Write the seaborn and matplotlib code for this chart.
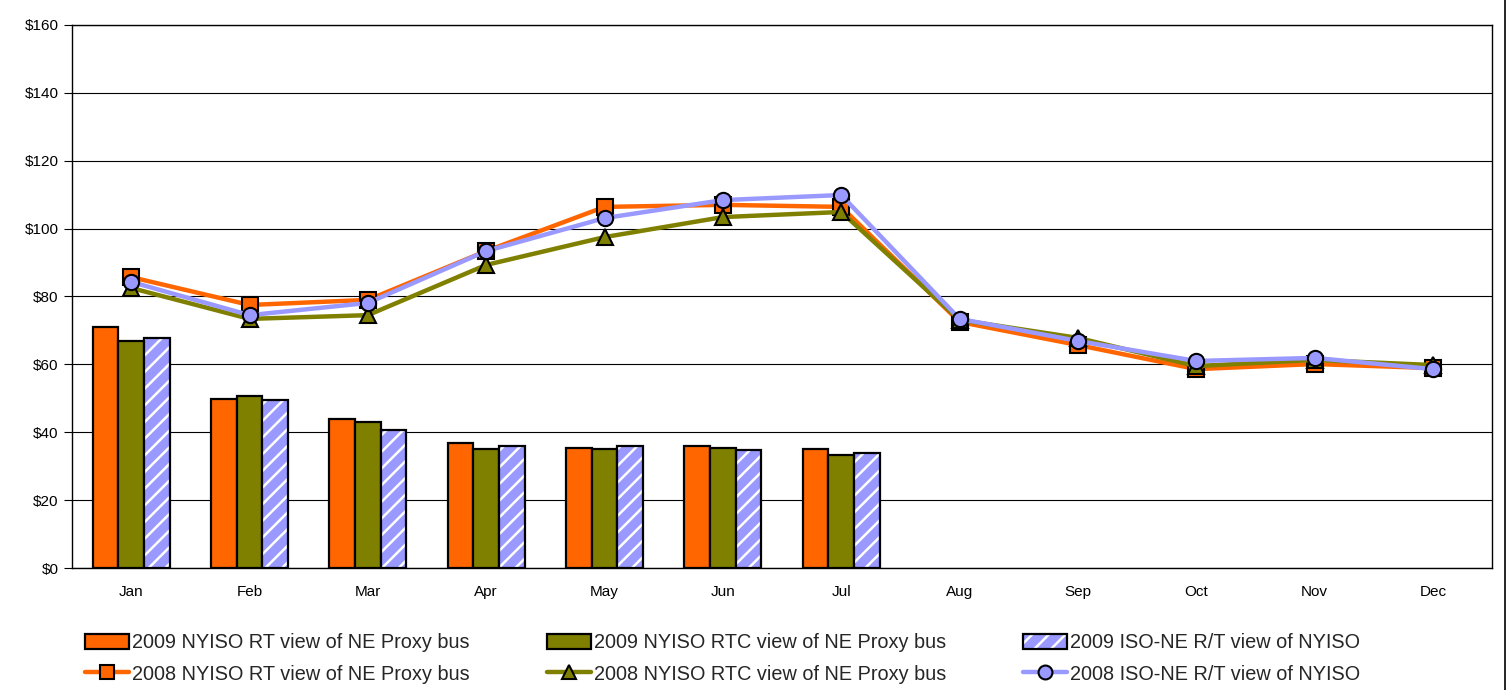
import numpy as np
import pandas as pd
import matplotlib
matplotlib.use("Agg")
import matplotlib.pyplot as plt
from matplotlib.patches import Patch
from matplotlib.lines import Line2D
from matplotlib.colors import to_rgba
import seaborn as sns

months = ["Jan", "Feb", "Mar", "Apr", "May", "Jun", "Jul", "Aug", "Sep", "Oct", "Nov", "Dec"]

bar_months = ["Jan", "Feb", "Mar", "Apr", "May", "Jun", "Jul"]
rt_2009 = [71.0, 49.8, 43.9, 36.8, 35.4, 36.0, 35.1]
rtc_2009 = [66.9, 50.7, 43.0, 35.1, 35.2, 35.4, 33.3]
isone_2009 = [67.8, 49.5, 40.7, 35.9, 36.0, 34.8, 33.9]

rt_2008 = [85.7, 77.5, 79.0, 93.4, 106.4, 107.0, 106.4, 72.5, 65.7, 58.6, 60.1, 58.9]
rtc_2008 = [82.5, 73.4, 74.5, 89.3, 97.5, 103.4, 104.9, 73.1, 67.8, 59.5, 61.3, 59.8]
isone_2008 = [84.3, 74.5, 78.1, 93.4, 103.1, 108.4, 109.9, 73.4, 66.9, 61.0, 61.9, 58.6]

bar_labels = ["2009 NYISO RT view of NE Proxy bus",
              "2009 NYISO RTC view of NE Proxy bus",
              "2009 ISO-NE R/T view of NYISO"]
line_labels = ["2008 NYISO RT view of NE Proxy bus",
               "2008 NYISO RTC view of NE Proxy bus",
               "2008 ISO-NE R/T view of NYISO"]

ORANGE = "#FF6600"
OLIVE = "#808000"
BLUE = "#9999FF"

sns.set_theme(style="white")
plt.rcParams["font.family"] = ["Liberation Sans", "DejaVu Sans"]
plt.rcParams["hatch.linewidth"] = 1.8

fig = plt.figure(figsize=(15.07, 6.90), dpi=100)
ax = fig.add_axes([0.0478, 0.1768, 0.9423, 0.787])

# Bars (2009) -- pad with all months so the category axis spans Jan..Dec
rows = []
for lab, vals in zip(bar_labels, [rt_2009, rtc_2009, isone_2009]):
    for m in months:
        v = vals[bar_months.index(m)] if m in bar_months else np.nan
        rows.append({"Month": m, "Series": lab, "Value": v})
bars_df = pd.DataFrame(rows)

sns.barplot(data=bars_df, x="Month", y="Value", hue="Series", order=months,
            hue_order=bar_labels, palette=[ORANGE, OLIVE, BLUE],
            width=0.65, edgecolor="black", linewidth=1.6, errorbar=None,
            saturation=1, legend=False, ax=ax, zorder=3)

blue_rgba = to_rgba(BLUE)
for p in ax.patches:
    fc = p.get_facecolor()
    if np.allclose(fc[:3], blue_rgba[:3], atol=0.02):
        p.set_hatch("//")
        p.set_edgecolor("black")
        p._hatch_color = (1, 1, 1, 1)

# Lines (2008)
xpos = np.arange(len(months))
line_specs = [(rt_2008, ORANGE, "s"), (rtc_2008, OLIVE, "^"), (isone_2008, BLUE, "o")]
for k, (vals, col, mk) in enumerate(line_specs):
    sns.lineplot(x=xpos, y=vals, color=col, linewidth=3.2, marker=mk,
                 markersize=11 if mk != "^" else 11.5, markerfacecolor=col,
                 markeredgecolor="black", markeredgewidth=1.5, ax=ax,
                 zorder=5 + k, legend=False)

ax.set_xlim(-0.5, len(months) - 0.5)
ax.set_ylim(0, 160)
ax.set_yticks(np.arange(0, 161, 20))
ax.set_yticklabels([f"${v}" for v in range(0, 161, 20)])
ax.set_xticks(xpos)
ax.set_xticklabels(months)
ax.set_xticks(np.arange(-0.5, len(months), 1), minor=True)
ax.tick_params(axis="x", which="major", length=0, labelsize=11, pad=12, colors="black")
ax.tick_params(axis="x", which="minor", length=6, width=0.8, color="black", direction="out")
ax.tick_params(axis="y", which="major", length=6, width=0.8, color="black", direction="out",
               labelsize=11, labelcolor="black", left=True)
ax.set_xlabel("")
ax.set_ylabel("")
ax.yaxis.grid(True, color="black", linewidth=0.8)
ax.set_axisbelow(True)
for s in ["left", "bottom", "right", "top"]:
    ax.spines[s].set_visible(True)
    ax.spines[s].set_color("black")
    ax.spines[s].set_linewidth(1.0)

# Legend
def hatch_patch():
    p = Patch(facecolor=BLUE, edgecolor="black", hatch="//", linewidth=1.6)
    p._hatch_color = (1, 1, 1, 1)
    return p

handles = [
    Patch(facecolor=ORANGE, edgecolor="black", linewidth=1.6),
    Line2D([], [], color=ORANGE, lw=3.2, marker="s", markersize=10,
           markerfacecolor=ORANGE, markeredgecolor="black", markeredgewidth=1.5),
    Patch(facecolor=OLIVE, edgecolor="black", linewidth=1.6),
    Line2D([], [], color=OLIVE, lw=3.2, marker="^", markersize=10,
           markerfacecolor=OLIVE, markeredgecolor="black", markeredgewidth=1.5),
    hatch_patch(),
    Line2D([], [], color=BLUE, lw=3.2, marker="o", markersize=10,
           markerfacecolor=BLUE, markeredgecolor="black", markeredgewidth=1.5),
]
labels = [bar_labels[0], line_labels[0], bar_labels[1], line_labels[1],
          bar_labels[2], line_labels[2]]
fig.legend(handles, labels, ncol=3, loc="lower left", bbox_to_anchor=(0.0487, -0.008),
           frameon=False, fontsize=14.3, handlelength=2.2, handleheight=0.8,
           handletextpad=0.15, columnspacing=3.9, labelspacing=0.62,
           borderaxespad=0.2)

fig.add_artist(Line2D([0.9985, 0.9985], [0, 1], transform=fig.transFigure,
                      color="black", linewidth=1.2))

fig.savefig("out.png", dpi=100)
